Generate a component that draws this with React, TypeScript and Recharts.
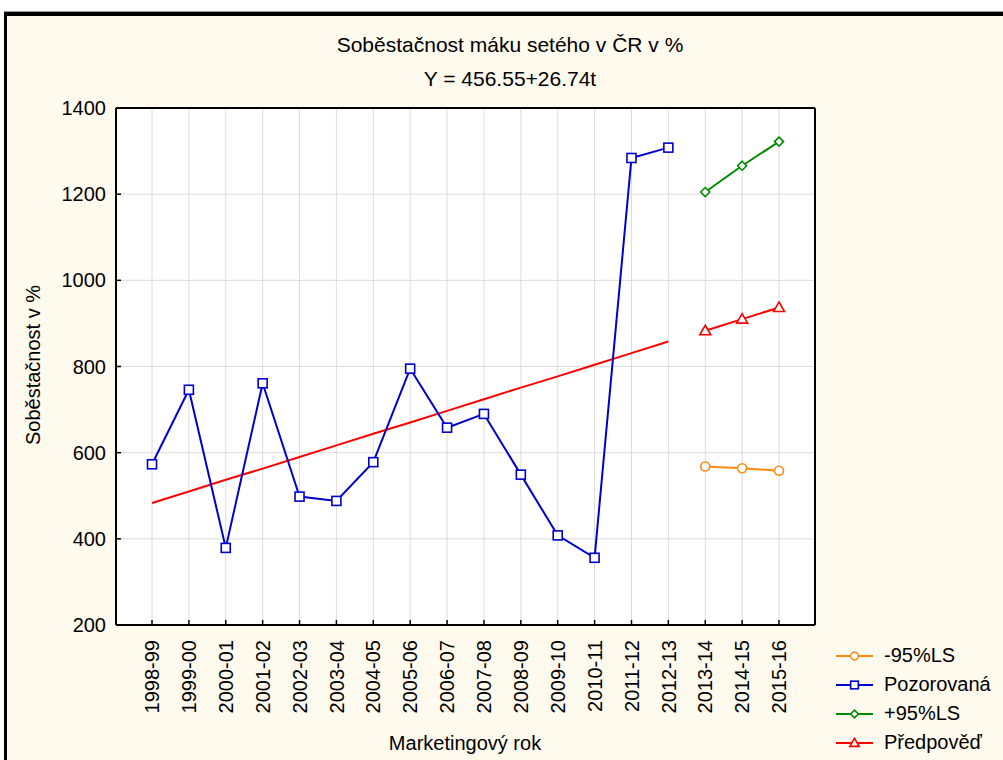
import React from 'react'
import {
  LineChart,
  Line,
  XAxis,
  YAxis,
  CartesianGrid,
} from 'recharts'

const years = [
  '1998-99', '1999-00', '2000-01', '2001-02', '2002-03', '2003-04', '2004-05', '2005-06', '2006-07',
  '2007-08', '2008-09', '2009-10', '2010-11', '2011-12', '2012-13', '2013-14', '2014-15', '2015-16',
]
const observed = [573, 746, 379, 761, 498, 488, 578, 795, 658, 690, 549, 408, 356, 1284, 1308]
const trend = [483, 510, 537, 563, 590, 617, 644, 670, 697, 724, 751, 777, 804, 831, 858]
const lower95 = [568, 564, 558]
const upper95 = [1205, 1266, 1322]
const forecast = [883, 910, 937]
const yTicks = [200, 400, 600, 800, 1000, 1200, 1400]

const FONT = '"Liberation Sans", Arial, sans-serif'
const BLUE = '#0000cc'
const RED = '#ff0000'
const GREEN = '#008a00'
const ORANGE = '#ff8a12'

const firstForecast = observed.length
const rows = years.map((year, i) => ({
  year,
  observed: i < observed.length ? observed[i] : null,
  trend: i < trend.length ? trend[i] : null,
  lower: i >= firstForecast ? lower95[i - firstForecast] : null,
  upper: i >= firstForecast ? upper95[i - firstForecast] : null,
  forecast: i >= firstForecast ? forecast[i - firstForecast] : null,
}))

type Mark = 'circle' | 'square' | 'diamond' | 'triangle'

function marker(kind: Mark, cx: number, cy: number, color: string, key?: string | number, s = 1) {
  if (kind === 'square')
    return <rect key={key} x={cx - 4.5 * s} y={cy - 4.5 * s} width={9 * s} height={9 * s} fill="#fff" stroke={color} strokeWidth={1.6} />
  if (kind === 'circle')
    return <circle key={key} cx={cx} cy={cy} r={4.5 * s} fill="#fff" stroke={color} strokeWidth={1.6} />
  if (kind === 'diamond')
    return (
      <polygon key={key} points={`${cx},${cy - 4.5 * s} ${cx + 4.5 * s},${cy} ${cx},${cy + 4.5 * s} ${cx - 4.5 * s},${cy}`}
        fill="#fff" stroke={color} strokeWidth={1.6} />
    )
  return (
    <polygon key={key} points={`${cx},${cy - 5.5 * s} ${cx + 5.5 * s},${cy + 4 * s} ${cx - 5.5 * s},${cy + 4 * s}`}
      fill="#fff" stroke={color} strokeWidth={1.6} />
  )
}

const dotFor = (kind: Mark, color: string) => (props: any) => {
  const { cx, cy, index } = props
  if (cx == null || cy == null || props.value == null) return <g key={index} />
  return marker(kind, cx, cy, color, index)
}

const legendItems: { label: string; kind: Mark; color: string }[] = [
  { label: '-95%LS', kind: 'circle', color: ORANGE },
  { label: 'Pozorovaná', kind: 'square', color: BLUE },
  { label: '+95%LS', kind: 'diamond', color: GREEN },
  { label: 'Předpověď', kind: 'triangle', color: RED },
]

function LegendBox() {
  return (
    <div style={{ position: 'absolute', left: 836, top: 641, fontFamily: FONT, fontSize: 20, color: '#000' }}>
      {legendItems.map((it) => (
        <div key={it.label} style={{ display: 'flex', alignItems: 'center', height: 29 }}>
          <svg width={48} height={14}>
            <line x1={0} y1={7} x2={37} y2={7} stroke={it.color} strokeWidth={2} />
            {marker(it.kind, 18.5, 7, it.color, undefined, 0.85)}
          </svg>
          <span>{it.label}</span>
        </div>
      ))}
    </div>
  )
}

function YearTick(props: any) {
  const { x, y, payload } = props
  return (
    <text x={x} y={y} transform={`rotate(-90 ${x} ${y})`} textAnchor="end" dy="0.36em"
      fontFamily={FONT} fontSize={20} fill="#000">
      {payload.value}
    </text>
  )
}

export default function App() {
  return (
    <div style={{ position: 'absolute', left: 0, top: 0, width: 1003, height: 760, overflow: 'hidden', background: '#fff' }}>
      <div
        style={{
          position: 'absolute', left: 4, top: 12, width: 1020, height: 780,
          borderTop: '4px solid #000', borderLeft: '3px solid #000', background: '#fffaee',
          boxShadow: '0 -1px 0 #999',
        }}
      />
      <div style={{ position: 'absolute', left: 0, top: 33, width: 1020, textAlign: 'center', fontFamily: FONT, fontSize: 21 }}>
        Soběstačnost máku setého v ČR v %
      </div>
      <div style={{ position: 'absolute', left: 0, top: 67, width: 1020, textAlign: 'center', fontFamily: FONT, fontSize: 21 }}>
        Y = 456.55+26.74t
      </div>
      <div
        style={{
          position: 'absolute', left: 33, top: 365, transform: 'translate(-50%, -50%) rotate(-90deg)',
          whiteSpace: 'nowrap', fontFamily: FONT, fontSize: 20,
        }}
      >
        Soběstačnost v %
      </div>
      <div style={{ position: 'absolute', left: 265, top: 732, width: 400, textAlign: 'center', fontFamily: FONT, fontSize: 20 }}>
        Marketingový rok
      </div>

      <div style={{ position: 'absolute', left: 0, top: 0 }}>
        <LineChart width={1003} height={760} data={rows} margin={{ top: 107, right: 187, bottom: 35, left: 16 }}>
          <CartesianGrid fill="#fff" stroke="#dcdcdc" strokeWidth={1} />
          <XAxis
            dataKey="year"
            padding={{ left: 36, right: 36 }}
            height={100}
            interval={0}
            axisLine={{ stroke: '#000', strokeWidth: 2 }}
            tickLine={{ stroke: '#000', strokeWidth: 1.5 }}
            tickSize={-5}
            tickMargin={20}
            tick={<YearTick />}
          />
          <XAxis
            xAxisId="top"
            orientation="top"
            dataKey="year"
            padding={{ left: 36, right: 36 }}
            height={1}
            interval={0}
            axisLine={{ stroke: '#000', strokeWidth: 2 }}
            tickLine={{ stroke: '#000', strokeWidth: 1.5 }}
            tickSize={-5}
            tick={false}
          />
          <YAxis
            domain={[200, 1400]}
            ticks={yTicks}
            width={100}
            axisLine={{ stroke: '#000', strokeWidth: 2 }}
            tickLine={{ stroke: '#000', strokeWidth: 1.5 }}
            tickSize={-5}
            tickMargin={15}
            tick={{ fill: '#000', fontSize: 20, fontFamily: FONT }}
          />
          <YAxis
            yAxisId="right"
            orientation="right"
            domain={[200, 1400]}
            ticks={yTicks}
            width={1}
            axisLine={{ stroke: '#000', strokeWidth: 2 }}
            tickLine={{ stroke: '#000', strokeWidth: 1.5 }}
            tickSize={-5}
            tick={false}
          />
          <Line dataKey="trend" stroke={RED} strokeWidth={2} dot={false} activeDot={false} isAnimationActive={false} />
          <Line dataKey="lower" stroke={ORANGE} strokeWidth={2} dot={dotFor('circle', ORANGE)} isAnimationActive={false} />
          <Line dataKey="observed" stroke={BLUE} strokeWidth={2} dot={dotFor('square', BLUE)} isAnimationActive={false} />
          <Line dataKey="upper" stroke={GREEN} strokeWidth={2} dot={dotFor('diamond', GREEN)} isAnimationActive={false} />
          <Line dataKey="forecast" stroke={RED} strokeWidth={2} dot={dotFor('triangle', RED)} isAnimationActive={false} />
        </LineChart>
      </div>
      <LegendBox />
    </div>
  )
}
